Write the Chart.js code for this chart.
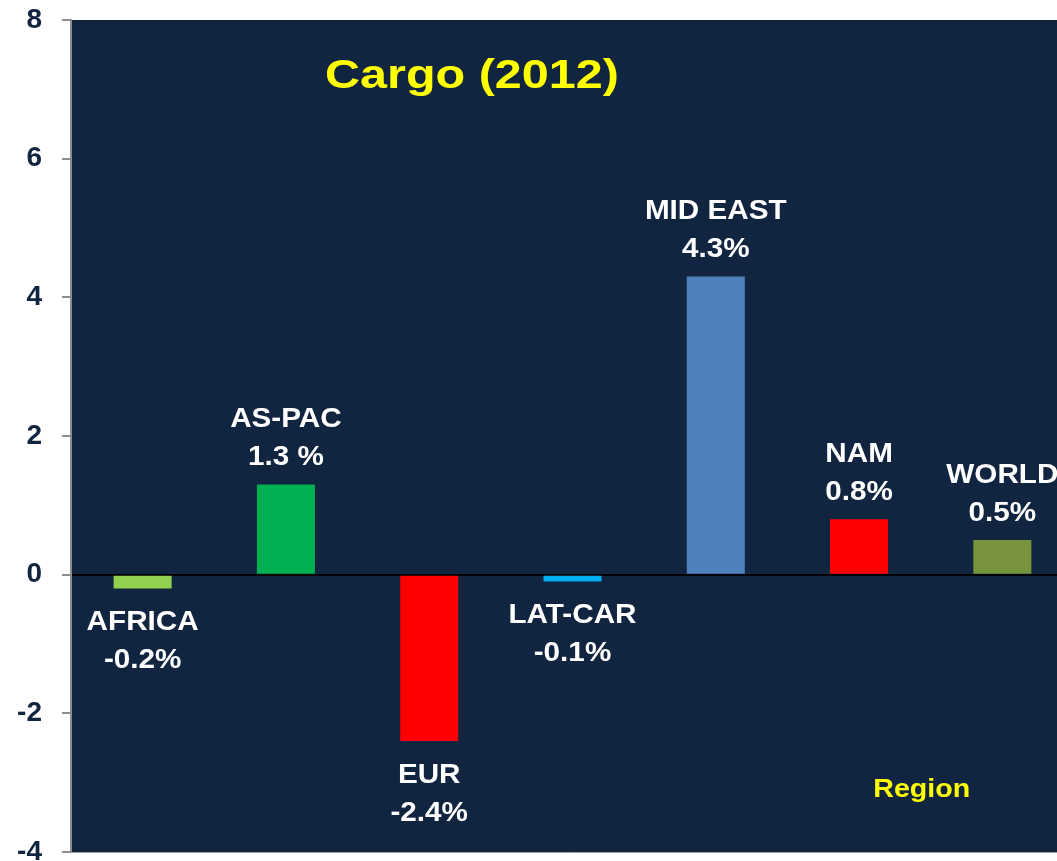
<!DOCTYPE html>
<html>
<head>
<meta charset="utf-8">
<script src="https://cdn.jsdelivr.net/npm/chart.js@4"></script>
<style>
html,body{margin:0;padding:0;overflow:hidden;background:#fff;}
#wrap{position:relative;width:1074px;height:861px;}
</style>
</head>
<body>
<div id="wrap"><canvas id="c"></canvas></div>
<script>
const categories = ["AFRICA","AS-PAC","EUR","LAT-CAR","MID EAST","NAM","WORLD"];
const values = [-0.2, 1.3, -2.4, -0.1, 4.3, 0.8, 0.5];
const valueLabels = ["-0.2%","1.3 %","-2.4%","-0.1%","4.3%","0.8%","0.5%"];
const barColors = ["#92d050","#00b050","#ff0000","#00b0f0","#4f81bd","#ff0000","#77933c"];
const yTicks = [-4,-2,0,2,4,6,8];
const titleText = "Cargo (2012)";
const axisTitleText = "Region";

const NAVY = "#112440";
const FONT = "'Liberation Sans', Arial, sans-serif";

const bgPlugin = {
  id: 'bg',
  beforeDraw(chart) {
    const {ctx, chartArea: a} = chart;
    ctx.save();
    ctx.fillStyle = NAVY;
    ctx.fillRect(a.left, a.top, a.right - a.left, a.bottom - a.top);
    ctx.strokeStyle = '#9aa3ad';
    ctx.lineWidth = 1;
    ctx.beginPath();
    ctx.moveTo(a.left, a.bottom + 0.5);
    ctx.lineTo(a.right, a.bottom + 0.5);
    ctx.stroke();
    ctx.restore();
  }
};

function drawStretched(ctx, text, cx, cy, font, sx) {
  ctx.font = font;
  ctx.save();
  ctx.translate(cx, cy);
  ctx.scale(sx, 1);
  ctx.fillText(text, 0, 0);
  ctx.restore();
}
function drawToWidth(ctx, text, cx, cy, font, targetW) {
  ctx.font = font;
  const w = ctx.measureText(text).width;
  drawStretched(ctx, text, cx, cy, font, targetW / w);
}

const labelPlugin = {
  id: 'labels',
  afterDatasetsDraw(chart) {
    const {ctx, chartArea: a} = chart;
    const meta = chart.getDatasetMeta(0);
    const ys = chart.scales.y;
    ctx.save();
    ctx.textAlign = 'center';
    ctx.textBaseline = 'middle';
    ctx.fillStyle = '#ffffff';
    const f = "bold 28px " + FONT;
    const sx = 1.06;
    meta.data.forEach((bar, i) => {
      const v = values[i];
      const x = bar.x;
      if (v >= 0) {
        const top = ys.getPixelForValue(v);
        drawStretched(ctx, categories[i], x, top - 65, f, sx);
        drawStretched(ctx, valueLabels[i], x, top - 27, f, sx);
      } else {
        const bottom = ys.getPixelForValue(v);
        drawStretched(ctx, categories[i], x, bottom + 34, f, sx);
        drawStretched(ctx, valueLabels[i], x, bottom + 72, f, sx);
      }
    });
    ctx.fillStyle = '#ffff00';
    const tx = a.left + (a.right - a.left) * 0.3998;
    drawToWidth(ctx, titleText, tx, a.top + 57, "bold 40px " + FONT, 294);
    const rx = a.left + (a.right - a.left) * 0.8482;
    drawToWidth(ctx, axisTitleText, rx, a.top + 770, "bold 25px " + FONT, 97);
    ctx.restore();
  }
};

new Chart(document.getElementById('c'), {
  type: 'bar',
  data: {
    labels: categories,
    datasets: [{
      data: values,
      backgroundColor: barColors,
      borderWidth: 0,
      barPercentage: 0.405,
      categoryPercentage: 1.0
    }]
  },
  options: {
    responsive: true,
    maintainAspectRatio: false,
    animation: false,
    layout: { padding: { top: 20, bottom: 9, left: 0, right: 0 } },
    plugins: { legend: { display: false }, tooltip: { enabled: false } },
    scales: {
      x: {
        display: true,
        grid: { display: false, drawTicks: false },
        border: { display: false },
        ticks: { display: false }
      },
      y: {
        min: -4, max: 8,
        afterFit(s) { s.width = 71; s.paddingTop = 0; s.paddingBottom = 0; },
        afterBuildTicks(s) { s.ticks = yTicks.map(v => ({value: v})); },
        border: { display: true, color: '#8c8c8c', width: 2 },
        grid: {
          drawOnChartArea: true,
          color: ctx => (ctx.tick && ctx.tick.value === 0) ? '#000000' : 'rgba(0,0,0,0)',
          lineWidth: 2,
          tickColor: '#8c8c8c',
          tickLength: 9,
          tickWidth: 2
        },
        ticks: {
          color: NAVY,
          padding: 20,
          font: { family: FONT, size: 28, weight: 'bold' }
        }
      }
    }
  },
  plugins: [bgPlugin, labelPlugin]
});
</script>
</body>
</html>
